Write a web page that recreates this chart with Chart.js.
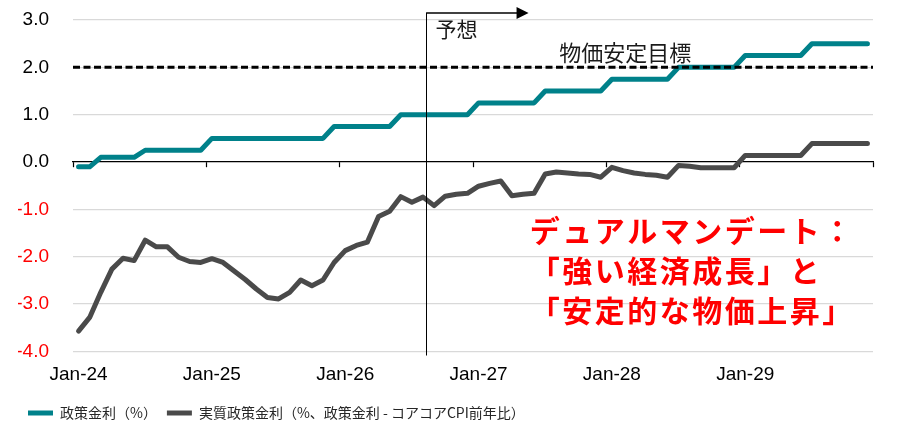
<!DOCTYPE html>
<html>
<head>
<meta charset="utf-8">
<script src="https://cdn.jsdelivr.net/npm/chart.js@4.4.1/dist/chart.umd.min.js"></script>
<style>
html,body{margin:0;padding:0;background:#fff;}
#wrap{width:908px;height:442px;position:relative;}
</style>
</head>
<body>
<div id="wrap"><canvas id="c"></canvas></div>
<script>
// ---- data ----
const MONTHS = ['Jan','Feb','Mar','Apr','May','Jun','Jul','Aug','Sep','Oct','Nov','Dec'];
const YEARS = ['24','25','26','27','28','29'];
const SERIES_NAMES = ['政策金利（%）', '実質政策金利（%、政策金利 - コアコアCPI前年比）'];
const policyRate = [
  -0.1,-0.1,0.1,0.1,0.1,0.1,0.25,0.25,0.25,0.25,0.25,0.25,
  0.5,0.5,0.5,0.5,0.5,0.5,0.5,0.5,0.5,0.5,0.5,0.75,
  0.75,0.75,0.75,0.75,0.75,1.0,1.0,1.0,1.0,1.0,1.0,1.0,
  1.25,1.25,1.25,1.25,1.25,1.25,1.5,1.5,1.5,1.5,1.5,1.5,
  1.75,1.75,1.75,1.75,1.75,1.75,2.0,2.0,2.0,2.0,2.0,2.0,
  2.25,2.25,2.25,2.25,2.25,2.25,2.5,2.5,2.5,2.5,2.5,2.5
];
const realRate = [
  -3.57,-3.28,-2.75,-2.26,-2.03,-2.08,-1.65,-1.79,-1.79,-2.01,-2.10,-2.12,
  -2.04,-2.12,-2.30,-2.48,-2.68,-2.86,-2.89,-2.75,-2.49,-2.61,-2.49,-2.12,
  -1.87,-1.76,-1.69,-1.15,-1.04,-0.73,-0.85,-0.74,-0.92,-0.72,-0.68,-0.66,
  -0.51,-0.45,-0.40,-0.71,-0.68,-0.66,-0.25,-0.21,-0.23,-0.25,-0.26,-0.32,
  -0.11,-0.18,-0.23,-0.26,-0.28,-0.32,-0.07,-0.09,-0.12,-0.12,-0.12,-0.12,
  0.14,0.14,0.14,0.14,0.14,0.14,0.39,0.39,0.39,0.39,0.39,0.39
];
const TARGET = 2.0;
const TARGET_LABEL = '物価安定目標';
const FORECAST_LABEL = '予想';
const FORECAST_AT = 31.25;   // month index where forecast starts
const ARROW_END = 40.5;
const NOTE_LINES = ['デュアルマンデート：', '「強い経済成長」と', '「安定的な物価上昇」'];
const Y_TICKS = {min:-4, max:3, step:1};

const labels = [];
YEARS.forEach(y => MONTHS.forEach(m => labels.push(m + '-' + y)));

const TEAL = '#00818A';
const GREY = '#4A4A4A';
const NUM_FONT = "'Liberation Sans', Arial, sans-serif";
const JP_FONT = "'Noto Sans CJK JP', sans-serif";

const annot = {
  id: 'annot',
  afterDatasetsDraw(chart) {
    const {ctx, chartArea: a, scales: {x, y}} = chart;
    ctx.save();
    // target dashed line
    const ty = y.getPixelForValue(TARGET);
    ctx.strokeStyle = '#000';
    ctx.lineWidth = 3;
    ctx.setLineDash([7, 3.5]);
    ctx.beginPath(); ctx.moveTo(a.left, ty); ctx.lineTo(a.right, ty); ctx.stroke();
    ctx.setLineDash([]);
    // forecast line + arrow
    const fx = Math.round(x.getPixelForValue(FORECAST_AT)) + 0.5;
    const ay = a.top - 7;
    ctx.lineWidth = 1;
    ctx.beginPath(); ctx.moveTo(fx, ay - 0.5); ctx.lineTo(fx, a.bottom + 4); ctx.stroke();
    const ax = x.getPixelForValue(ARROW_END);
    ctx.lineWidth = 1.3;
    ctx.beginPath(); ctx.moveTo(fx, ay); ctx.lineTo(ax - 10, ay); ctx.stroke();
    ctx.fillStyle = '#000';
    ctx.beginPath(); ctx.moveTo(ax - 12, ay - 6); ctx.lineTo(ax, ay); ctx.lineTo(ax - 12, ay + 6); ctx.closePath(); ctx.fill();
    // texts
    ctx.fillStyle = '#1a1a1a';
    ctx.font = '21px ' + JP_FONT;
    ctx.textBaseline = 'middle';
    ctx.textAlign = 'left';
    ctx.fillText(FORECAST_LABEL, fx + 9, ay + 16);
    ctx.textAlign = 'center';
    ctx.font = '22px ' + JP_FONT;
    ctx.fillText(TARGET_LABEL, x.getPixelForValue(49.2), ty - 15);
    ctx.fillStyle = '#FF0000';
    ctx.font = 'bold 30px ' + JP_FONT;
    ctx.textAlign = 'left';
    try { ctx.letterSpacing = '2.5px'; } catch (e) {}
    const lx = x.getPixelForValue(40.6);
    const y0 = y.getPixelForValue(-1.45);
    NOTE_LINES.forEach((t, i) => ctx.fillText(t, lx, y0 + i * 40));
    ctx.restore();
  }
};

new Chart(document.getElementById('c'), {
  type: 'line',
  data: {
    labels: labels,
    datasets: [
      {label: SERIES_NAMES[0], data: policyRate, borderColor: TEAL, backgroundColor: TEAL,
       borderWidth: 5, pointRadius: 0, tension: 0, borderCapStyle: 'round', borderJoinStyle: 'round'},
      {label: SERIES_NAMES[1], data: realRate, borderColor: GREY, backgroundColor: GREY,
       borderWidth: 5, pointRadius: 0, tension: 0, borderCapStyle: 'round', borderJoinStyle: 'round'}
    ]
  },
  options: {
    responsive: true,
    maintainAspectRatio: false,
    animation: false,
    devicePixelRatio: 1,
    layout: {padding: {left: 18, right: 35, top: 20, bottom: 12}},
    plugins: {
      tooltip: {enabled: false},
      legend: {
        position: 'bottom',
        align: 'start',
        labels: {
          boxWidth: 25, boxHeight: 5, padding: 10,
          color: '#262626',
          font: {family: JP_FONT, size: 14},
          generateLabels: (chart) => chart.data.datasets.map((ds, i) => ({
            text: ds.label, fillStyle: ds.borderColor, strokeStyle: ds.borderColor,
            lineWidth: 0, datasetIndex: i, fontColor: '#262626'
          }))
        }
      }
    },
    scales: {
      x: {
        type: 'category',
        offset: true,
        grid: {display: false, drawTicks: false},
        border: {display: false},
        ticks: {
          autoSkip: false, maxRotation: 0, padding: 12,
          color: '#000',
          font: {family: NUM_FONT, size: 19},
          callback: function(v, i) { return i % 12 === 0 ? this.getLabelForValue(v) : ''; }
        },
        afterFit: (s) => { s.height = 44.5; }
      },
      x2: {
        type: 'category',
        offset: true,
        position: {y: 0},
        grid: {
          offset: true, drawOnChartArea: false, drawTicks: true, tickLength: 5, tickWidth: 1.2,
          tickColor: (c) => (c.index === undefined || c.index % 12 === 0) ? '#000' : 'rgba(0,0,0,0)'
        },
        border: {display: true, color: '#000', width: 1.2},
        ticks: {display: false, autoSkip: false}
      },
      y: {
        min: Y_TICKS.min, max: Y_TICKS.max,
        border: {display: false},
        grid: {
          color: (c) => c.tick && c.tick.value === 0 ? 'rgba(0,0,0,0)' : '#D9D9D9',
          lineWidth: 1.3, drawTicks: false
        },
        ticks: {
          stepSize: Y_TICKS.step, padding: 24,
          color: (c) => c.tick.value < 0 ? '#FF0000' : '#000',
          font: {family: NUM_FONT, size: 19},
          callback: (v) => v.toFixed(1)
        },
        afterFit: (s) => { s.width = 55; s.paddingTop = 12; s.paddingBottom = 12; }
      }
    }
  },
  plugins: [annot]
});
</script>
</body>
</html>
